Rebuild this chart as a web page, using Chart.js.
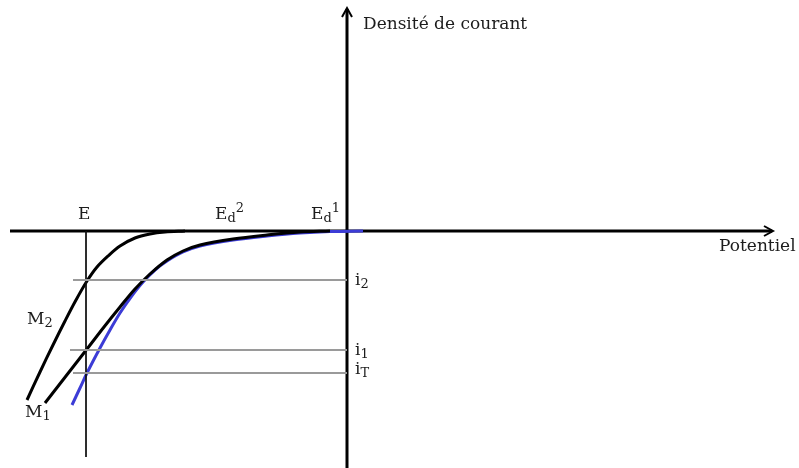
<!DOCTYPE html>
<html>
<head>
<meta charset="utf-8">
<script src="https://cdn.jsdelivr.net/npm/chart.js@4.4.1/dist/chart.umd.min.js"></script>
<style>
  html, body { margin: 0; padding: 0; background: #fff; }
  canvas { display: block; }
</style>
</head>
<body>
<canvas id="polarisation" width="799" height="468"></canvas>
<script>
// Courbes de polarisation (unités arbitraires, origine au croisement des axes)
var potentialM2 = [-320, -307, -294, -282, -271, -260, -250, -239, -227, -212, -197, -182, -162];
var densityM2   = [-169, -141, -114, -90, -69, -50, -36, -25, -15, -7, -3, -1, 0];

var potentialM1 = [-302, -281, -260, -243, -227, -212, -197, -180, -164, -147, -114, -80, -47, -17];
var densityM1   = [-172, -145, -118, -96, -76, -58, -43, -29, -20, -14, -8, -4, -1, 0];

var potentialT = [-275, -267, -260, -247, -237, -227, -216, -204, -192, -180, -164, -147, -114, -80, -47, -17, 16];
var densityT   = [-174, -157, -142, -117, -99, -82, -66, -51, -39, -30, -21, -15, -9, -5, -2, -0.5, 0];

// Niveaux de courant i2, i1, iT
var levelNames  = ['2', '1', 'T'];
var levelValues = [-49, -119, -142];
var levelStart  = [-274, -277, -274];

// Potentiels marqués sur l'axe
var potE = -261;
var potEBottom = -226;
var potEd2 = -118;
var potEd1 = -22;

var xRange = [-347, 452];
var yRange = [-237, 231];

var serif = '"DejaVu Serif", "Liberation Serif", serif';
var ink = '#1c1c1c';

function toPoints(xs, ys) {
    return xs.map(function(x, i) { return { x: x, y: ys[i] }; });
}

var datasets = [];

levelValues.forEach(function(v, i) {
    datasets.push({
        data: [{ x: levelStart[i], y: v }, { x: 0, y: v }],
        borderColor: '#9a9a9a',
        borderWidth: 2,
        tension: 0
    });
});

datasets.push({
    data: [{ x: potE, y: 0 }, { x: potE, y: potEBottom }],
    borderColor: '#111',
    borderWidth: 1,
    tension: 0
});

datasets.push({
    data: toPoints(potentialM2, densityM2),
    borderColor: '#000',
    borderWidth: 3,
    tension: 0.35
});
datasets.push({
    data: toPoints(potentialM1, densityM1),
    borderColor: '#000',
    borderWidth: 3,
    tension: 0.35
});
datasets.push({
    data: toPoints(potentialT, densityT),
    borderColor: '#3c3cd6',
    borderWidth: 3,
    tension: 0.35
});

datasets.forEach(function(d) {
    d.showLine = true;
    d.pointRadius = 0;
    d.borderCapStyle = 'butt';
});

// Texte avec indice / exposant
function drawLabel(ctx, x, y, parts) {
    var cx = x;
    parts.forEach(function(p) {
        var size = p.small ? 13 : 17;
        var dy = p.sub ? 4 : (p.sup ? -6 : 0);
        ctx.font = size + 'px ' + serif;
        ctx.fillText(p.t, cx, y + dy);
        cx += ctx.measureText(p.t).width + (p.gap || 0);
    });
}

function arrowHead(ctx, x, y, dx, dy) {
    var len = 9, wid = 5;
    ctx.beginPath();
    ctx.moveTo(x - dx * len + dy * wid, y - dy * len + dx * wid);
    ctx.lineTo(x, y);
    ctx.lineTo(x - dx * len - dy * wid, y - dy * len - dx * wid);
    ctx.stroke();
}

var axesPlugin = {
    id: 'axes',
    beforeDatasetsDraw: function(chart) {
        var ctx = chart.ctx;
        var xs = chart.scales.x, ys = chart.scales.y;
        var ox = xs.getPixelForValue(0), oy = ys.getPixelForValue(0);
        ctx.save();
        ctx.strokeStyle = '#000';
        ctx.lineWidth = 3;
        ctx.beginPath();
        ctx.moveTo(xs.getPixelForValue(-337), oy);
        ctx.lineTo(xs.getPixelForValue(425), oy);
        ctx.moveTo(ox, ys.getPixelForValue(yRange[0]));
        ctx.lineTo(ox, ys.getPixelForValue(222));
        ctx.stroke();
        ctx.lineWidth = 2;
        arrowHead(ctx, xs.getPixelForValue(425) + 1, oy, 1, 0);
        arrowHead(ctx, ox, ys.getPixelForValue(222) - 1, 0, -1);
        ctx.restore();
    },
    afterDatasetsDraw: function(chart) {
        var ctx = chart.ctx;
        var xs = chart.scales.x, ys = chart.scales.y;
        var ox = xs.getPixelForValue(0), oy = ys.getPixelForValue(0);
        ctx.save();
        ctx.fillStyle = ink;
        ctx.textBaseline = 'middle';
        ctx.textAlign = 'left';

        drawLabel(ctx, ox + 16, 25, [{ t: 'Densité de courant' }]);
        drawLabel(ctx, 719, oy + 16, [{ t: 'Potentiel' }]);

        drawLabel(ctx, xs.getPixelForValue(potE) - 8, oy - 16, [{ t: 'E' }]);
        drawLabel(ctx, xs.getPixelForValue(potEd2) - 14, oy - 16,
            [{ t: 'E' }, { t: 'd', small: true, sub: true }, { t: '2', small: true, sup: true }]);
        drawLabel(ctx, xs.getPixelForValue(potEd1) - 14, oy - 16,
            [{ t: 'E' }, { t: 'd', small: true, sub: true }, { t: '1', small: true, sup: true }]);

        levelValues.forEach(function(v, i) {
            drawLabel(ctx, ox + 8, ys.getPixelForValue(v) + (i === 2 ? -3 : 1),
                [{ t: 'i' }, { t: levelNames[i], small: true, sub: true }]);
        });

        drawLabel(ctx, 27, 320, [{ t: 'M' }, { t: '2', small: true, sub: true }]);
        drawLabel(ctx, 25, 413, [{ t: 'M' }, { t: '1', small: true, sub: true }]);
        ctx.restore();
    }
};

new Chart(document.getElementById('polarisation'), {
    type: 'scatter',
    data: { datasets: datasets },
    options: {
        responsive: false,
        animation: false,
        devicePixelRatio: 1,
        layout: { padding: 0 },
        plugins: { legend: { display: false }, tooltip: { enabled: false } },
        scales: {
            x: { type: 'linear', display: false, min: xRange[0], max: xRange[1] },
            y: { type: 'linear', display: false, min: yRange[0], max: yRange[1] }
        }
    },
    plugins: [axesPlugin]
});
</script>
</body>
</html>
